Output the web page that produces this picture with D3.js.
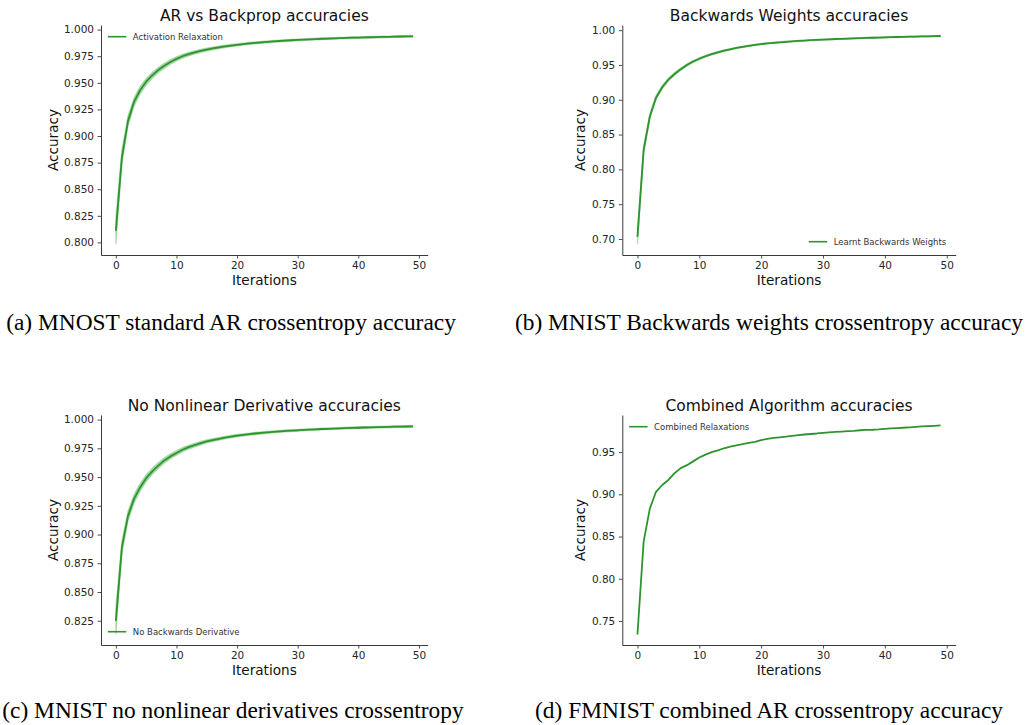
<!DOCTYPE html>
<html>
<head>
<meta charset="utf-8">
<script src="https://cdn.jsdelivr.net/npm/d3@7/dist/d3.min.js"></script>
<style>
  html, body { margin: 0; padding: 0; background: #fff; }
  svg { display: block; }
</style>
</head>
<body>
<svg id="chart" width="1026" height="725"></svg>
<script>
// ---------------- DATA ----------------
const iterationTicks = [0, 10, 20, 30, 40, 50];

// (a) Activation Relaxation
const arMean = [0.811, 0.880, 0.914, 0.932, 0.943, 0.951, 0.957, 0.962, 0.966, 0.9695,
  0.9725, 0.975, 0.977, 0.9785, 0.980, 0.9812, 0.9823, 0.9833, 0.9842, 0.985,
  0.9857, 0.9864, 0.987, 0.9875, 0.988, 0.9885, 0.9889, 0.9893, 0.9897, 0.990,
  0.9903, 0.9906, 0.9909, 0.9911, 0.9914, 0.9916, 0.9918, 0.992, 0.9922, 0.9924,
  0.9925, 0.9927, 0.9928, 0.993, 0.9931, 0.9932, 0.9934, 0.9935, 0.9936, 0.9937];
const arStd = [0.013, 0.007, 0.005, 0.004, 0.0035, 0.003, 0.0027, 0.0025, 0.0023, 0.0021,
  0.002, 0.0018, 0.0017, 0.0016, 0.0015, 0.0014, 0.0013, 0.0012, 0.0012, 0.0011,
  0.0011, 0.001, 0.001, 0.001, 0.001, 0.0009, 0.0009, 0.0009, 0.0009, 0.0009,
  0.0008, 0.0008, 0.0008, 0.0008, 0.0008, 0.0008, 0.0008, 0.0008, 0.0008, 0.0008,
  0.0008, 0.0008, 0.0008, 0.0008, 0.0008, 0.0008, 0.0008, 0.0008, 0.0008, 0.0008];
const arTicks = [0.800, 0.825, 0.850, 0.875, 0.900, 0.925, 0.950, 0.975, 1.000];

// (b) Learnt Backwards Weights
const bwMean = [0.703, 0.828, 0.876, 0.903, 0.918, 0.929, 0.937, 0.944, 0.950, 0.955,
  0.959, 0.9625, 0.9655, 0.968, 0.9705, 0.9725, 0.9745, 0.976, 0.9775, 0.9788,
  0.980, 0.981, 0.9818, 0.9826, 0.9833, 0.984, 0.9846, 0.9851, 0.9856, 0.9861,
  0.9865, 0.9869, 0.9873, 0.9876, 0.9879, 0.9882, 0.9885, 0.9888, 0.9891, 0.9894,
  0.9897, 0.9899, 0.9902, 0.9904, 0.9906, 0.9908, 0.991, 0.9912, 0.9914, 0.9916];
const bwStd = [0.011, 0.006, 0.004, 0.003, 0.0025, 0.0022, 0.002, 0.0018, 0.0016, 0.0015,
  0.0014, 0.0013, 0.0012, 0.0012, 0.0011, 0.0011, 0.001, 0.001, 0.001, 0.001,
  0.0009, 0.0009, 0.0009, 0.0009, 0.0009, 0.0008, 0.0008, 0.0008, 0.0008, 0.0008,
  0.0008, 0.0008, 0.0008, 0.0008, 0.0008, 0.0008, 0.0008, 0.0008, 0.0008, 0.0008,
  0.0008, 0.0008, 0.0008, 0.0008, 0.0008, 0.0008, 0.0008, 0.0008, 0.0008, 0.0008];
const bwTicks = [0.70, 0.75, 0.80, 0.85, 0.90, 0.95, 1.00];

// (c) No Backwards Derivative
const nndMean = [0.825, 0.889, 0.916, 0.931, 0.941, 0.949, 0.955, 0.960, 0.9645, 0.968,
  0.971, 0.9738, 0.976, 0.9778, 0.9795, 0.981, 0.9822, 0.9833, 0.9843, 0.9852,
  0.986, 0.9867, 0.9873, 0.9879, 0.9884, 0.9889, 0.9893, 0.9897, 0.9901, 0.9904,
  0.9907, 0.991, 0.9913, 0.9915, 0.9918, 0.992, 0.9922, 0.9924, 0.9926, 0.9928,
  0.9929, 0.9931, 0.9932, 0.9934, 0.9935, 0.9936, 0.9938, 0.9939, 0.994, 0.9941];
const nndStd = [0.012, 0.006, 0.0045, 0.0038, 0.0033, 0.003, 0.0027, 0.0025, 0.0023, 0.0021,
  0.002, 0.0018, 0.0017, 0.0016, 0.0015, 0.0014, 0.0013, 0.0012, 0.0012, 0.0011,
  0.0011, 0.001, 0.001, 0.001, 0.001, 0.0009, 0.0009, 0.0009, 0.0009, 0.0009,
  0.0008, 0.0008, 0.0008, 0.0008, 0.0008, 0.0008, 0.0008, 0.0008, 0.0008, 0.0008,
  0.0008, 0.0008, 0.0008, 0.0008, 0.0008, 0.0008, 0.0008, 0.0008, 0.0008, 0.0008];
const nndTicks = [0.825, 0.850, 0.875, 0.900, 0.925, 0.950, 0.975, 1.000];

// (d) Combined Relaxations (FMNIST)
const combMean = [0.734, 0.844, 0.883, 0.903, 0.911, 0.917, 0.925, 0.931, 0.9345, 0.939,
  0.9435, 0.947, 0.950, 0.952, 0.9545, 0.9565, 0.958, 0.9595, 0.961, 0.962,
  0.9642, 0.9655, 0.9668, 0.9675, 0.9682, 0.9692, 0.970, 0.9708, 0.9714, 0.972,
  0.9728, 0.9733, 0.9738, 0.9743, 0.9748, 0.9752, 0.9758, 0.9762, 0.9764, 0.9768,
  0.9775, 0.978, 0.9784, 0.9788, 0.9792, 0.9797, 0.9803, 0.9807, 0.9811, 0.9815];
const combTicks = [0.75, 0.80, 0.85, 0.90, 0.95];

const titles = ["AR vs Backprop accuracies", "Backwards Weights accuracies",
  "No Nonlinear Derivative accuracies", "Combined Algorithm accuracies"];
const legendLabels = ["Activation Relaxation", "Learnt Backwards Weights",
  "No Backwards Derivative", "Combined Relaxations"];
const captions = ["(a) MNOST standard AR crossentropy accuracy",
  "(b) MNIST Backwards weights crossentropy accuracy",
  "(c) MNIST no nonlinear derivatives crossentropy",
  "(d) FMNIST combined AR crossentropy accuracy"];

// ---------------- LAYOUT ----------------
const panels = [
  { mean: arMean, std: arStd, ticks: arTicks, fmt: ".3f", title: titles[0], legend: legendLabels[0], caption: captions[0],
    x0: 101, x1: 427.7, yTop: 25, yBot: 255, legendPos: "ul", capX: 231, capY: 330, ylabX: 58 },
  { mean: bwMean, std: bwStd, ticks: bwTicks, fmt: ".2f", title: titles[1], legend: legendLabels[1], caption: captions[1],
    x0: 622.3, x1: 955.7, yTop: 25, yBot: 255, legendPos: "lr", capX: 769, capY: 330, ylabX: 585 },
  { mean: nndMean, std: nndStd, ticks: nndTicks, fmt: ".3f", title: titles[2], legend: legendLabels[2], caption: captions[2],
    x0: 101, x1: 427.7, yTop: 415, yBot: 645, legendPos: "ll", capX: 233, capY: 718, ylabX: 58 },
  { mean: combMean, std: null, ticks: combTicks, fmt: ".2f", title: titles[3], legend: legendLabels[3], caption: captions[3],
    x0: 622.3, x1: 955.7, yTop: 415, yBot: 645, legendPos: "ul", capX: 769, capY: 718, ylabX: 585 }
];

const GREEN = "#2f932f";
const BAND = "#6cc06c";
const AXIS = "#3a3a3a";
const TXT = "#262626";
const SANS = "'DejaVu Sans', sans-serif";

const svg = d3.select("#chart");

panels.forEach(p => {
  const g = svg.append("g");
  const n = p.mean.length;
  const lowArr = p.mean.map((m, i) => m - (p.std ? p.std[i] : 0));
  const highArr = p.mean.map((m, i) => m + (p.std ? p.std[i] : 0));
  const ymin = d3.min(lowArr), ymax = d3.max(highArr);
  const ym = (ymax - ymin) * 0.05;
  const xm = (n - 1) * 0.05;

  const x = d3.scaleLinear().domain([0 - xm, (n - 1) + xm]).range([p.x0, p.x1]);
  const y = d3.scaleLinear().domain([ymin - ym, ymax + ym]).range([p.yBot, p.yTop]);

  // band
  if (p.std) {
    const area = d3.area()
      .x((d, i) => x(i))
      .y0((d, i) => y(lowArr[i]))
      .y1((d, i) => y(highArr[i]))
      .curve(d3.curveLinear);
    g.append("path").datum(p.mean).attr("d", area)
      .attr("fill", BAND).attr("fill-opacity", 0.55)
      .attr("stroke", BAND).attr("stroke-opacity", 0.45).attr("stroke-width", 1.2);
  }
  // line
  const line = d3.line().x((d, i) => x(i)).y(d => y(d));
  g.append("path").datum(p.mean).attr("d", line)
    .attr("fill", "none").attr("stroke", GREEN).attr("stroke-width", 1.8)
    .attr("stroke-linejoin", "round");

  // axes
  const xAxis = d3.axisBottom(x).tickValues(iterationTicks).tickFormat(d3.format("d"))
    .tickSize(3.5).tickSizeOuter(0).tickPadding(3.5);
  const yAxis = d3.axisLeft(y).tickValues(p.ticks).tickFormat(d3.format(p.fmt))
    .tickSize(3.5).tickSizeOuter(0).tickPadding(3.5);

  const gx = g.append("g").attr("transform", `translate(0,${p.yBot})`).call(xAxis);
  const gy = g.append("g").attr("transform", `translate(${p.x0},0)`).call(yAxis);
  [gx, gy].forEach(a => {
    a.select(".domain").attr("stroke", AXIS).attr("stroke-width", 1);
    a.selectAll(".tick line").attr("stroke", AXIS).attr("stroke-width", 0.9);
    a.selectAll(".tick text").attr("fill", TXT).style("font-family", SANS).style("font-size", "10.5px");
  });

  // title
  g.append("text").attr("x", (p.x0 + p.x1) / 2).attr("y", p.yTop - 4.3)
    .attr("text-anchor", "middle").attr("fill", "#111")
    .style("font-family", SANS).style("font-size", "15.5px").text(p.title);

  // axis labels
  g.append("text").attr("x", (p.x0 + p.x1) / 2).attr("y", p.yBot + 30)
    .attr("text-anchor", "middle").attr("fill", "#111")
    .style("font-family", SANS).style("font-size", "13.6px").text("Iterations");
  g.append("text").attr("transform", `translate(${p.ylabX},${(p.yTop + p.yBot) / 2}) rotate(-90)`)
    .attr("text-anchor", "middle").attr("fill", "#111")
    .style("font-family", SANS).style("font-size", "13.6px").text("Accuracy");

  // legend
  let lx, ly;
  if (p.legendPos === "ul") { lx = p.x0 + 6.8; ly = p.yTop + 11.7; }
  else if (p.legendPos === "ll") { lx = p.x0 + 6.8; ly = p.yBot - 13.3; }
  else { lx = p.x1 - 147; ly = p.yBot - 13.3; }
  g.append("line").attr("x1", lx).attr("x2", lx + 18.5).attr("y1", ly).attr("y2", ly)
    .attr("stroke", GREEN).attr("stroke-width", 1.6);
  g.append("text").attr("x", lx + 25).attr("y", ly).attr("dy", "0.34em")
    .attr("fill", "#333").style("font-family", SANS).style("font-size", "8.5px").text(p.legend);

  // caption
  svg.append("text").attr("x", p.capX).attr("y", p.capY).attr("text-anchor", "middle")
    .attr("fill", "#000").style("font-family", "'Liberation Serif', 'Times New Roman', serif")
    .style("font-size", "23.4px").text(p.caption);
});
</script>
</body>
</html>
